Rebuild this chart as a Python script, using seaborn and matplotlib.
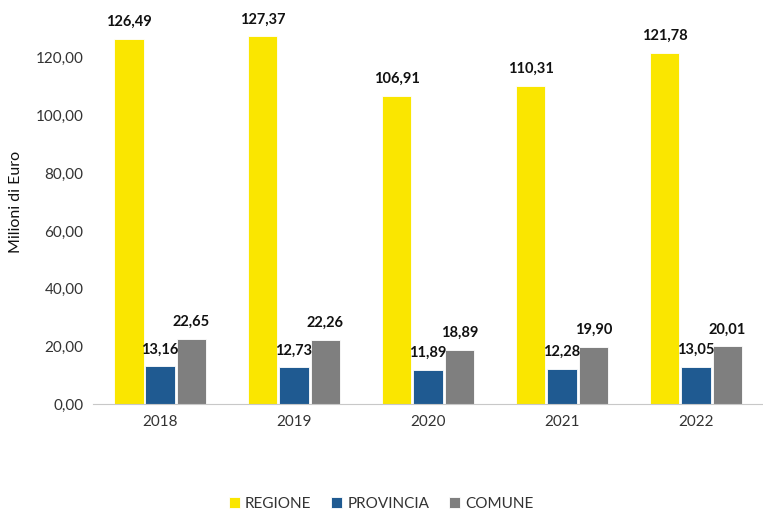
import pandas as pd
import numpy as np
import seaborn as sns
import matplotlib.pyplot as plt
from matplotlib.ticker import FuncFormatter

# Data
anni = ['2018', '2019', '2020', '2021', '2022']
regione = [126.49, 127.37, 106.91, 110.31, 121.78]
provincia = [13.16, 12.73, 11.89, 12.28, 13.05]
comune = [22.65, 22.26, 18.89, 19.90, 20.01]
enti = ['REGIONE', 'PROVINCIA', 'COMUNE']
colori = ['#FAE600', '#1F5A91', '#7F7F7F']

df = pd.DataFrame({
    'anno': anni * 3,
    'ente': [e for e in enti for _ in anni],
    'valore': regione + provincia + comune,
})

sns.set_style('white')
plt.rcParams['font.family'] = ['Lato', 'DejaVu Sans']

fig = plt.figure(figsize=(7.63, 5.11), dpi=100)
ax = fig.add_axes([0.122, 0.209, 0.878, 0.791])

sns.barplot(data=df, x='anno', y='valore', hue='ente', hue_order=enti,
            palette=colori, width=0.7, gap=0.06, ax=ax, saturation=1,
            edgecolor='white', linewidth=0.6)

for cont in ax.containers:
    ax.bar_label(cont, labels=[f'{v:.2f}'.replace('.', ',') for v in cont.datavalues],
                 padding=7, fontsize=10.5, fontweight='bold', color='#111111')

ax.set_ylim(0, 140)
ax.set_yticks(np.arange(0, 121, 20))
ax.yaxis.set_major_formatter(FuncFormatter(lambda v, p: f'{v:.2f}'.replace('.', ',')))
ax.set_xlabel('')
ax.set_ylabel('Milioni di Euro', fontsize=11.5, color='#111111', labelpad=9)
ax.tick_params(axis='both', labelsize=11, colors='#333333', length=0)
ax.tick_params(axis='y', pad=7)
ax.tick_params(axis='x', pad=8)

for s in ['top', 'right', 'left']:
    ax.spines[s].set_visible(False)
ax.spines['bottom'].set_color('#C8C8C8')

ax.legend(loc='upper center', bbox_to_anchor=(0.43, -0.195), ncol=3, frameon=False,
          fontsize=11, handlelength=0.7, handleheight=0.7, columnspacing=1.3,
          handletextpad=0.35, labelcolor='#333333')

fig.savefig('out.png', dpi=100)
